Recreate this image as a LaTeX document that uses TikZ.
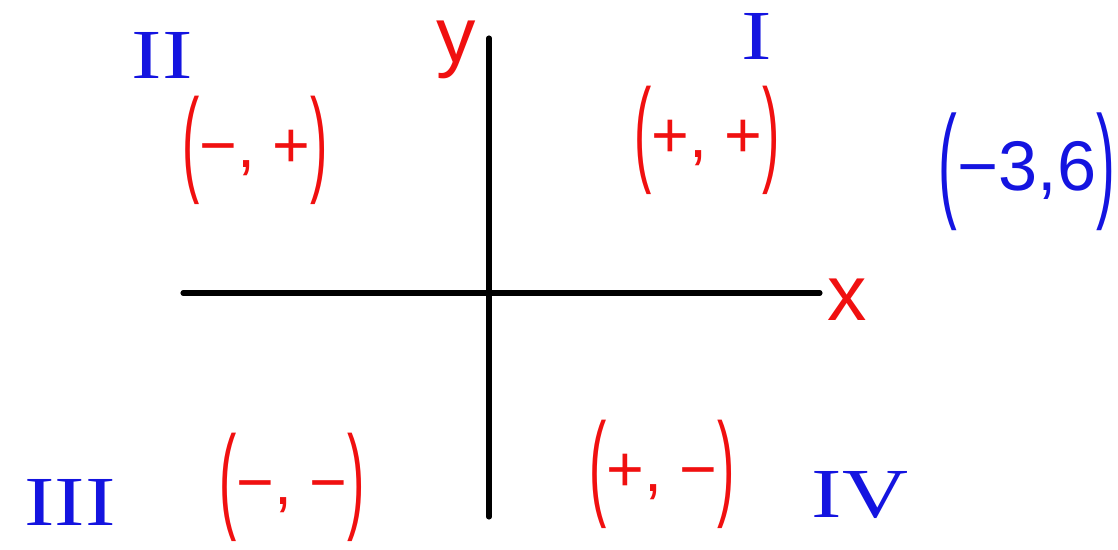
\documentclass[tikz,border=0pt]{standalone}
\usepackage{fontspec}
\setmainfont{Liberation Sans}
\newfontfamily\numfont{Liberation Serif}
\definecolor{penR}{HTML}{F01010}
\definecolor{penB}{HTML}{1414E0}
\newcommand{\bigpar}[1]{\raisebox{-0.2em}{\scalebox{0.8}[1.8]{#1}}}
\newcommand{\wide}[1]{\scalebox{1.3}[1]{#1}}
\tikzset{
  axisline/.style={line width=3.6pt, line cap=round},
  signlbl/.style={penR, inner sep=0pt, font=\fontsize{46}{50}\selectfont},
  pointlbl/.style={penB, inner sep=0pt, font=\fontsize{50}{54}\selectfont},
  quadlbl/.style={penB, inner sep=0pt, font=\numfont\fontsize{50}{54}\selectfont},
  axislbl/.style={penR, inner sep=0pt, font=\fontsize{56}{60}\selectfont}
}

\begin{document}
\begin{tikzpicture}[x=0.025cm, y=-0.025cm]

\useasboundingbox (0,0) rectangle (1118,550);

% axes
\coordinate (xl) at (183,293);
\coordinate (xr) at (820,293);
\coordinate (yt) at (489,38);
\coordinate (yb) at (489,517);
\draw[axisline] (xl) -- (xr);
\draw[axisline] (yt) -- (yb);

\node[axislbl] (ylbl) at (456,50) {y};
\node[axislbl] (xlbl) at (847,300) {x};

% quadrant numbers
\node[quadlbl] (q1) at (757,36) {\wide{I}};
\node[quadlbl] (q2) at (162,55) {\wide{II}};
\node[quadlbl] (q3) at (70,502) {\wide{III}};
\node[quadlbl] (q4) at (860,495) {\wide{IV}};

% signs of the coordinates
\node[signlbl] (s1) at (707,140) {\bigpar{(}+, +\bigpar{)}};
\node[signlbl] (s2) at (255,150) {\bigpar{(}−, +\bigpar{)}};
\node[signlbl] (s3) at (292,487) {\bigpar{(}−, −\bigpar{)}};
\node[signlbl] (s4) at (662,474) {\bigpar{(}+, −\bigpar{)}};

% sample point
\node[pointlbl] (pt) at (1027,172) {\bigpar{(}−3,6\bigpar{)}};

\end{tikzpicture}
\end{document}
